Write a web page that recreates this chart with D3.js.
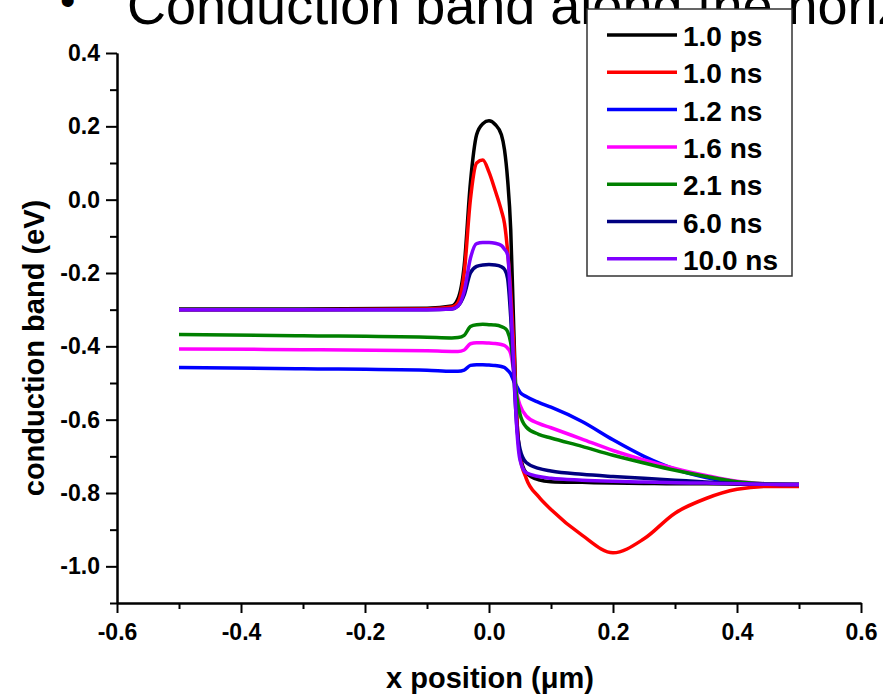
<!DOCTYPE html>
<html lang="en">

<head>
    <meta charset="UTF-8">
    <title>Conduction band</title>
    <style>
        body { margin: 0; background: #fff; }
        text { font-family: Arial, "Liberation Sans", sans-serif; }
    </style>
</head>

<body>
    <div id="my_dataviz"></div>
    <script src="https://d3js.org/d3.v7.min.js"></script>
    <script>
        // x positions (um) shared by every curve
        var xs = [-0.5, -0.3, -0.1, -0.06, -0.05, -0.04, -0.03, -0.02, -0.01, 0, 0.01, 0.02, 0.025, 0.03,
            0.035, 0.04, 0.045, 0.05, 0.06, 0.08, 0.1, 0.15, 0.2, 0.25, 0.3, 0.35, 0.4, 0.45, 0.5];

        // conduction band (eV), one array per time
        var band1ps = [-0.298, -0.298, -0.296, -0.290, -0.27, -0.18, 0.046, 0.177, 0.207, 0.215, 0.205, 0.177, 0.136, 0.055,
            -0.08, -0.355, -0.60, -0.695, -0.745, -0.764, -0.769, -0.771, -0.773, -0.774, -0.775, -0.775, -0.776, -0.777, -0.777];
        var band1ns = [-0.300, -0.300, -0.298, -0.293, -0.28, -0.20, 0.0, 0.10, 0.108, 0.075, 0.025, -0.03, -0.065, -0.14,
            -0.25, -0.40, -0.60, -0.70, -0.76, -0.81, -0.845, -0.915, -0.963, -0.925, -0.855, -0.815, -0.79, -0.782, -0.782];
        var band1_2ns = [-0.458, -0.461, -0.465, -0.468, -0.468, -0.465, -0.452, -0.450, -0.450, -0.451, -0.452, -0.455, -0.458, -0.465,
            -0.475, -0.495, -0.51, -0.525, -0.537, -0.553, -0.566, -0.605, -0.655, -0.70, -0.735, -0.758, -0.772, -0.776, -0.777];
        var band1_6ns = [-0.407, -0.409, -0.412, -0.414, -0.414, -0.41, -0.393, -0.390, -0.390, -0.391, -0.392, -0.395, -0.398, -0.405,
            -0.42, -0.47, -0.53, -0.56, -0.59, -0.61, -0.622, -0.653, -0.684, -0.71, -0.733, -0.752, -0.768, -0.775, -0.777];
        var band2_1ns = [-0.368, -0.371, -0.375, -0.377, -0.376, -0.37, -0.346, -0.341, -0.340, -0.341, -0.342, -0.346, -0.350, -0.36,
            -0.39, -0.46, -0.54, -0.585, -0.62, -0.64, -0.65, -0.673, -0.697, -0.718, -0.738, -0.755, -0.769, -0.775, -0.777];
        var band6ns = [-0.300, -0.300, -0.300, -0.298, -0.29, -0.26, -0.20, -0.182, -0.178, -0.177, -0.178, -0.183, -0.19, -0.215,
            -0.32, -0.48, -0.62, -0.68, -0.717, -0.733, -0.74, -0.749, -0.755, -0.76, -0.765, -0.77, -0.774, -0.776, -0.777];
        var band10ns = [-0.300, -0.300, -0.300, -0.298, -0.29, -0.25, -0.16, -0.12, -0.117, -0.117, -0.119, -0.125, -0.135, -0.15,
            -0.28, -0.46, -0.63, -0.71, -0.745, -0.755, -0.76, -0.765, -0.768, -0.77, -0.772, -0.773, -0.775, -0.776, -0.777];

        var labels = ["1.0 ps", "1.0 ns", "1.2 ns", "1.6 ns", "2.1 ns", "6.0 ns", "10.0 ns"];
        var colors = ["#000000", "#ff0000", "#0000ff", "#ff00ff", "#008000", "#000080", "#7f00ff"];
        var series = [band1ps, band1ns, band1_2ns, band1_6ns, band2_1ns, band6ns, band10ns];

        var xMajor = [-0.6, -0.4, -0.2, 0.0, 0.2, 0.4, 0.6];
        var xMinor = [-0.5, -0.3, -0.1, 0.1, 0.3, 0.5];
        var yMajor = [0.4, 0.2, 0.0, -0.2, -0.4, -0.6, -0.8, -1.0];
        var yMinor = [0.3, 0.1, -0.1, -0.3, -0.5, -0.7, -0.9, -1.1];

        const width = 883,
            height = 697;
        var svg = d3.select("#my_dataviz").append("svg")
            .attr("width", width)
            .attr("height", height);

        // slide title, mostly cut off at the top
        svg.append("text")
            .attr("x", 60)
            .attr("y", 16)
            .attr("font-size", 44)
            .text("\u2022");
        svg.append("text")
            .attr("x", 127)
            .attr("y", 24)
            .attr("font-size", 54)
            .text("Conduction band along the horizontal direction");

        // scales
        var x = d3.scaleLinear()
            .domain([-0.6, 0.6])
            .range([117, 861]);
        var y = d3.scaleLinear()
            .domain([-1.1, 0.4])
            .range([603, 53]);

        function fmt(d) {
            return d3.format(".1f")(d).replace("\u2212", "-");
        }

        // minor ticks first, then major with labels
        svg.append("g")
            .attr("transform", "translate(0,603)")
            .call(d3.axisBottom(x).tickValues(xMinor).tickSize(6).tickSizeOuter(0).tickFormat(""));
        svg.append("g")
            .attr("transform", "translate(117,0)")
            .call(d3.axisLeft(y).tickValues(yMinor).tickSize(7).tickSizeOuter(0).tickFormat(""));

        var xAx = svg.append("g")
            .attr("transform", "translate(0,603)")
            .call(d3.axisBottom(x).tickValues(xMajor).tickSize(10).tickSizeOuter(0).tickPadding(11).tickFormat(fmt));
        var yAx = svg.append("g")
            .attr("transform", "translate(117,0)")
            .call(d3.axisLeft(y).tickValues(yMajor).tickSize(11).tickSizeOuter(0).tickPadding(6).tickFormat(fmt));

        svg.selectAll(".domain, .tick line")
            .attr("stroke", "#000")
            .attr("stroke-width", 2);
        svg.selectAll(".tick text")
            .attr("fill", "#000")
            .attr("font-size", 23)
            .attr("font-weight", "bold")
            .attr("font-family", "Arial, 'Liberation Sans', sans-serif");

        // axis titles
        svg.append("text")
            .attr("x", 490)
            .attr("y", 688)
            .attr("text-anchor", "middle")
            .attr("font-size", 29)
            .attr("font-weight", "bold")
            .text("x position (\u03bcm)");
        svg.append("text")
            .attr("transform", "translate(44,348) rotate(-90)")
            .attr("text-anchor", "middle")
            .attr("font-size", 29)
            .attr("font-weight", "bold")
            .text("conduction band (eV)");

        // curves
        var line = d3.line()
            .x(function (d, i) {
                return x(xs[i]);
            })
            .y(function (d) {
                return y(d);
            })
            .curve(d3.curveMonotoneX);

        svg.selectAll(".band")
            .data(series)
            .join("path")
            .attr("class", "band")
            .attr("d", line)
            .attr("fill", "none")
            .attr("stroke", function (d, i) {
                return colors[i];
            })
            .attr("stroke-width", 3.5);

        // legend
        var lg = svg.append("g");
        lg.append("rect")
            .attr("x", 587)
            .attr("y", 9)
            .attr("width", 205)
            .attr("height", 267)
            .attr("fill", "#fff")
            .attr("stroke", "#333")
            .attr("stroke-width", 1.5);
        labels.forEach(function (l, i) {
            var ly = 35 + i * 37.3;
            lg.append("line")
                .attr("x1", 607)
                .attr("x2", 677)
                .attr("y1", ly)
                .attr("y2", ly)
                .attr("stroke", colors[i])
                .attr("stroke-width", 3.5);
            lg.append("text")
                .attr("x", 683)
                .attr("y", ly + 11)
                .attr("font-size", 28)
                .attr("font-weight", "bold")
                .text(l);
        });
    </script>
</body>

</html>
